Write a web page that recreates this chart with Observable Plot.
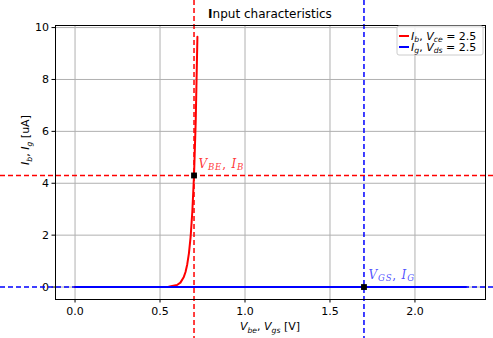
<!DOCTYPE html>
<html>
<head>
<meta charset="utf-8">
<script src="https://cdn.jsdelivr.net/npm/d3@7"></script>
<script src="https://cdn.jsdelivr.net/npm/@observablehq/plot@0.6"></script>
<style>
  html, body { margin: 0; padding: 0; background: white; }
  svg { display: block; }
</style>
</head>
<body>
<div id="chart"></div>
<script>
// ---- Data ----
const vbe = [0.00, 0.50, 0.55, 0.60, 0.62, 0.64, 0.65, 0.66, 0.67, 0.68, 0.69, 0.70, 0.71, 0.72];
const ib  = [0.00, 0.00, 0.01, 0.08, 0.17, 0.39, 0.58, 0.87, 1.30, 1.93, 2.90, 4.30, 6.40, 9.65];
const vgs = [0.00, 2.30];
const ig  = [0.00, 0.00];
const bjtPoint = [0.70, 4.30];   // V_BE, I_B
const fetPoint = [1.70, 0.00];   // V_GS, I_G
const xTicks = [0, 0.5, 1.0, 1.5, 2.0];
const yTicks = [0, 2, 4, 6, 8, 10];

const redPts = vbe.map((v, i) => ({x: v, y: ib[i]}));
const bluePts = vgs.map((v, i) => ({x: v, y: ig[i]}));
const opPts = [{x: bjtPoint[0], y: bjtPoint[1]}, {x: fetPoint[0], y: fetPoint[1]}];

const W = 493, H = 338, ML = 55, MR = 8, MT = 25, MB = 39;

const chart = Plot.plot({
  width: W, height: H,
  marginLeft: ML, marginRight: MR, marginTop: MT, marginBottom: MB,
  style: {fontFamily: "DejaVu Sans", fontSize: "11px", background: "white", color: "black", overflow: "visible"},
  x: {domain: [-0.115, 2.415], label: null},
  y: {domain: [-0.48, 10.08], label: null},
  marks: [
    Plot.gridX(xTicks, {stroke: "#b0b0b0", strokeOpacity: 1, strokeWidth: 1}),
    Plot.gridY(yTicks, {stroke: "#b0b0b0", strokeOpacity: 1, strokeWidth: 1}),
    Plot.axisX(xTicks, {tickSize: 3.5, tickPadding: 4, tickFormat: d3.format(".1f"), label: null, fontSize: 11}),
    Plot.axisY(yTicks, {tickSize: 3.5, tickPadding: 3, tickFormat: d3.format("d"), label: null, fontSize: 11}),
    Plot.ruleX([bjtPoint[0]], {stroke: "red", strokeWidth: 1.5, strokeDasharray: "5,3", insetTop: -MT, insetBottom: -MB}),
    Plot.ruleY([bjtPoint[1]], {stroke: "red", strokeWidth: 1.5, strokeDasharray: "5,3", insetLeft: -ML, insetRight: -MR}),
    Plot.ruleX([fetPoint[0]], {stroke: "blue", strokeWidth: 1.5, strokeDasharray: "5,3", insetTop: -MT, insetBottom: -MB}),
    Plot.ruleY([fetPoint[1]], {stroke: "blue", strokeWidth: 1.5, strokeDasharray: "5,3", insetLeft: -ML, insetRight: -MR}),
    Plot.line(redPts, {x: "x", y: "y", stroke: "red", strokeWidth: 2}),
    Plot.line(bluePts, {x: "x", y: "y", stroke: "blue", strokeWidth: 2}),
    Plot.dot(opPts, {x: "x", y: "y", symbol: "square", fill: "black", r: 3.3}),
    Plot.frame({stroke: "black", strokeWidth: 1})
  ]
});
document.getElementById("chart").appendChild(chart);

const svg = d3.select(chart);
const sx = v => chart.scale("x").apply(v);
const sy = v => chart.scale("y").apply(v);

// helper: text with italic / subscript parts
function mathText(sel, parts, subShift, subSize = "0.7em") {
  let shifted = false;
  parts.forEach(p => {
    const ts = sel.append("tspan").text(p.t);
    if (p.it) ts.attr("font-style", "italic");
    if (p.b) ts.attr("font-weight", "bold");
    if (p.sub) {
      ts.attr("font-size", subSize);
      if (!shifted) { ts.attr("dy", subShift); shifted = true; }
    } else if (shifted) {
      ts.attr("dy", -subShift); shifted = false;
    }
  });
  return sel;
}

const g = svg.append("g").attr("text-anchor", "start");

// Title
mathText(g.append("text").attr("x", (ML + W - MR) / 2).attr("y", 18)
  .attr("text-anchor", "middle").attr("font-size", 12).attr("font-family", "DejaVu Sans").attr("fill", "black"),
  [{t: "I", b: true}, {t: "nput characteristics"}], 0);

// X label
mathText(g.append("text").attr("x", (ML + W - MR) / 2).attr("y", 330)
  .attr("text-anchor", "middle").attr("font-size", 11).attr("font-family", "DejaVu Sans").attr("fill", "black"),
  [{t: "V", it: true}, {t: "be", it: true, sub: true}, {t: ", "}, {t: "V", it: true}, {t: "gs", it: true, sub: true}, {t: " [V]"}], 2.5);

// Y label
mathText(g.append("text").attr("transform", "translate(29,140) rotate(-90)")
  .attr("text-anchor", "middle").attr("font-size", 11).attr("font-family", "DejaVu Sans").attr("fill", "black"),
  [{t: "I", it: true}, {t: "b", it: true, sub: true}, {t: ", "}, {t: "I", it: true}, {t: "g", it: true, sub: true}, {t: " [uA]"}], 2.5);

// Annotations
mathText(g.append("text").attr("x", sx(bjtPoint[0]) + 5).attr("y", sy(bjtPoint[1]) - 7)
  .attr("text-anchor", "start").attr("letter-spacing", 0.8)
  .attr("font-size", 12).attr("font-family", "DejaVu Serif").attr("fill", "red").attr("fill-opacity", 0.8),
  [{t: "V", it: true}, {t: "BE", it: true, sub: true}, {t: ", "}, {t: "I", it: true}, {t: "B", it: true, sub: true}], 2, "0.72em");
mathText(g.append("text").attr("x", sx(fetPoint[0]) + 5).attr("y", sy(fetPoint[1]) - 8)
  .attr("text-anchor", "start").attr("letter-spacing", 0.8)
  .attr("font-size", 12).attr("font-family", "DejaVu Serif").attr("fill", "blue").attr("fill-opacity", 0.7),
  [{t: "V", it: true}, {t: "GS", it: true, sub: true}, {t: ", "}, {t: "I", it: true}, {t: "G", it: true, sub: true}], 2, "0.72em");

// Legend
const lg = g.append("g");
lg.append("rect").attr("x", 397).attr("y", 26).attr("width", 86).attr("height", 29).attr("rx", 2)
  .attr("fill", "white").attr("fill-opacity", 0.8).attr("stroke", "#cccccc").attr("stroke-width", 1);
const legendItems = [
  {color: "red", parts: [{t: "I", it: true}, {t: "b", it: true, sub: true}, {t: ", "}, {t: "V", it: true}, {t: "ce", it: true, sub: true}, {t: " = 2.5"}]},
  {color: "blue", parts: [{t: "I", it: true}, {t: "g", it: true, sub: true}, {t: ", "}, {t: "V", it: true}, {t: "ds", it: true, sub: true}, {t: " = 2.5"}]}
];
legendItems.forEach((it, i) => {
  const yy = 36 + i * 11;
  lg.append("line").attr("x1", 399).attr("x2", 409).attr("y1", yy).attr("y2", yy)
    .attr("stroke", it.color).attr("stroke-width", 2);
  mathText(lg.append("text").attr("x", 411).attr("y", yy + 4).attr("font-size", 11)
    .attr("text-anchor", "start")
    .attr("font-family", "DejaVu Sans").attr("fill", "black"), it.parts, 2);
});
</script>
</body>
</html>
